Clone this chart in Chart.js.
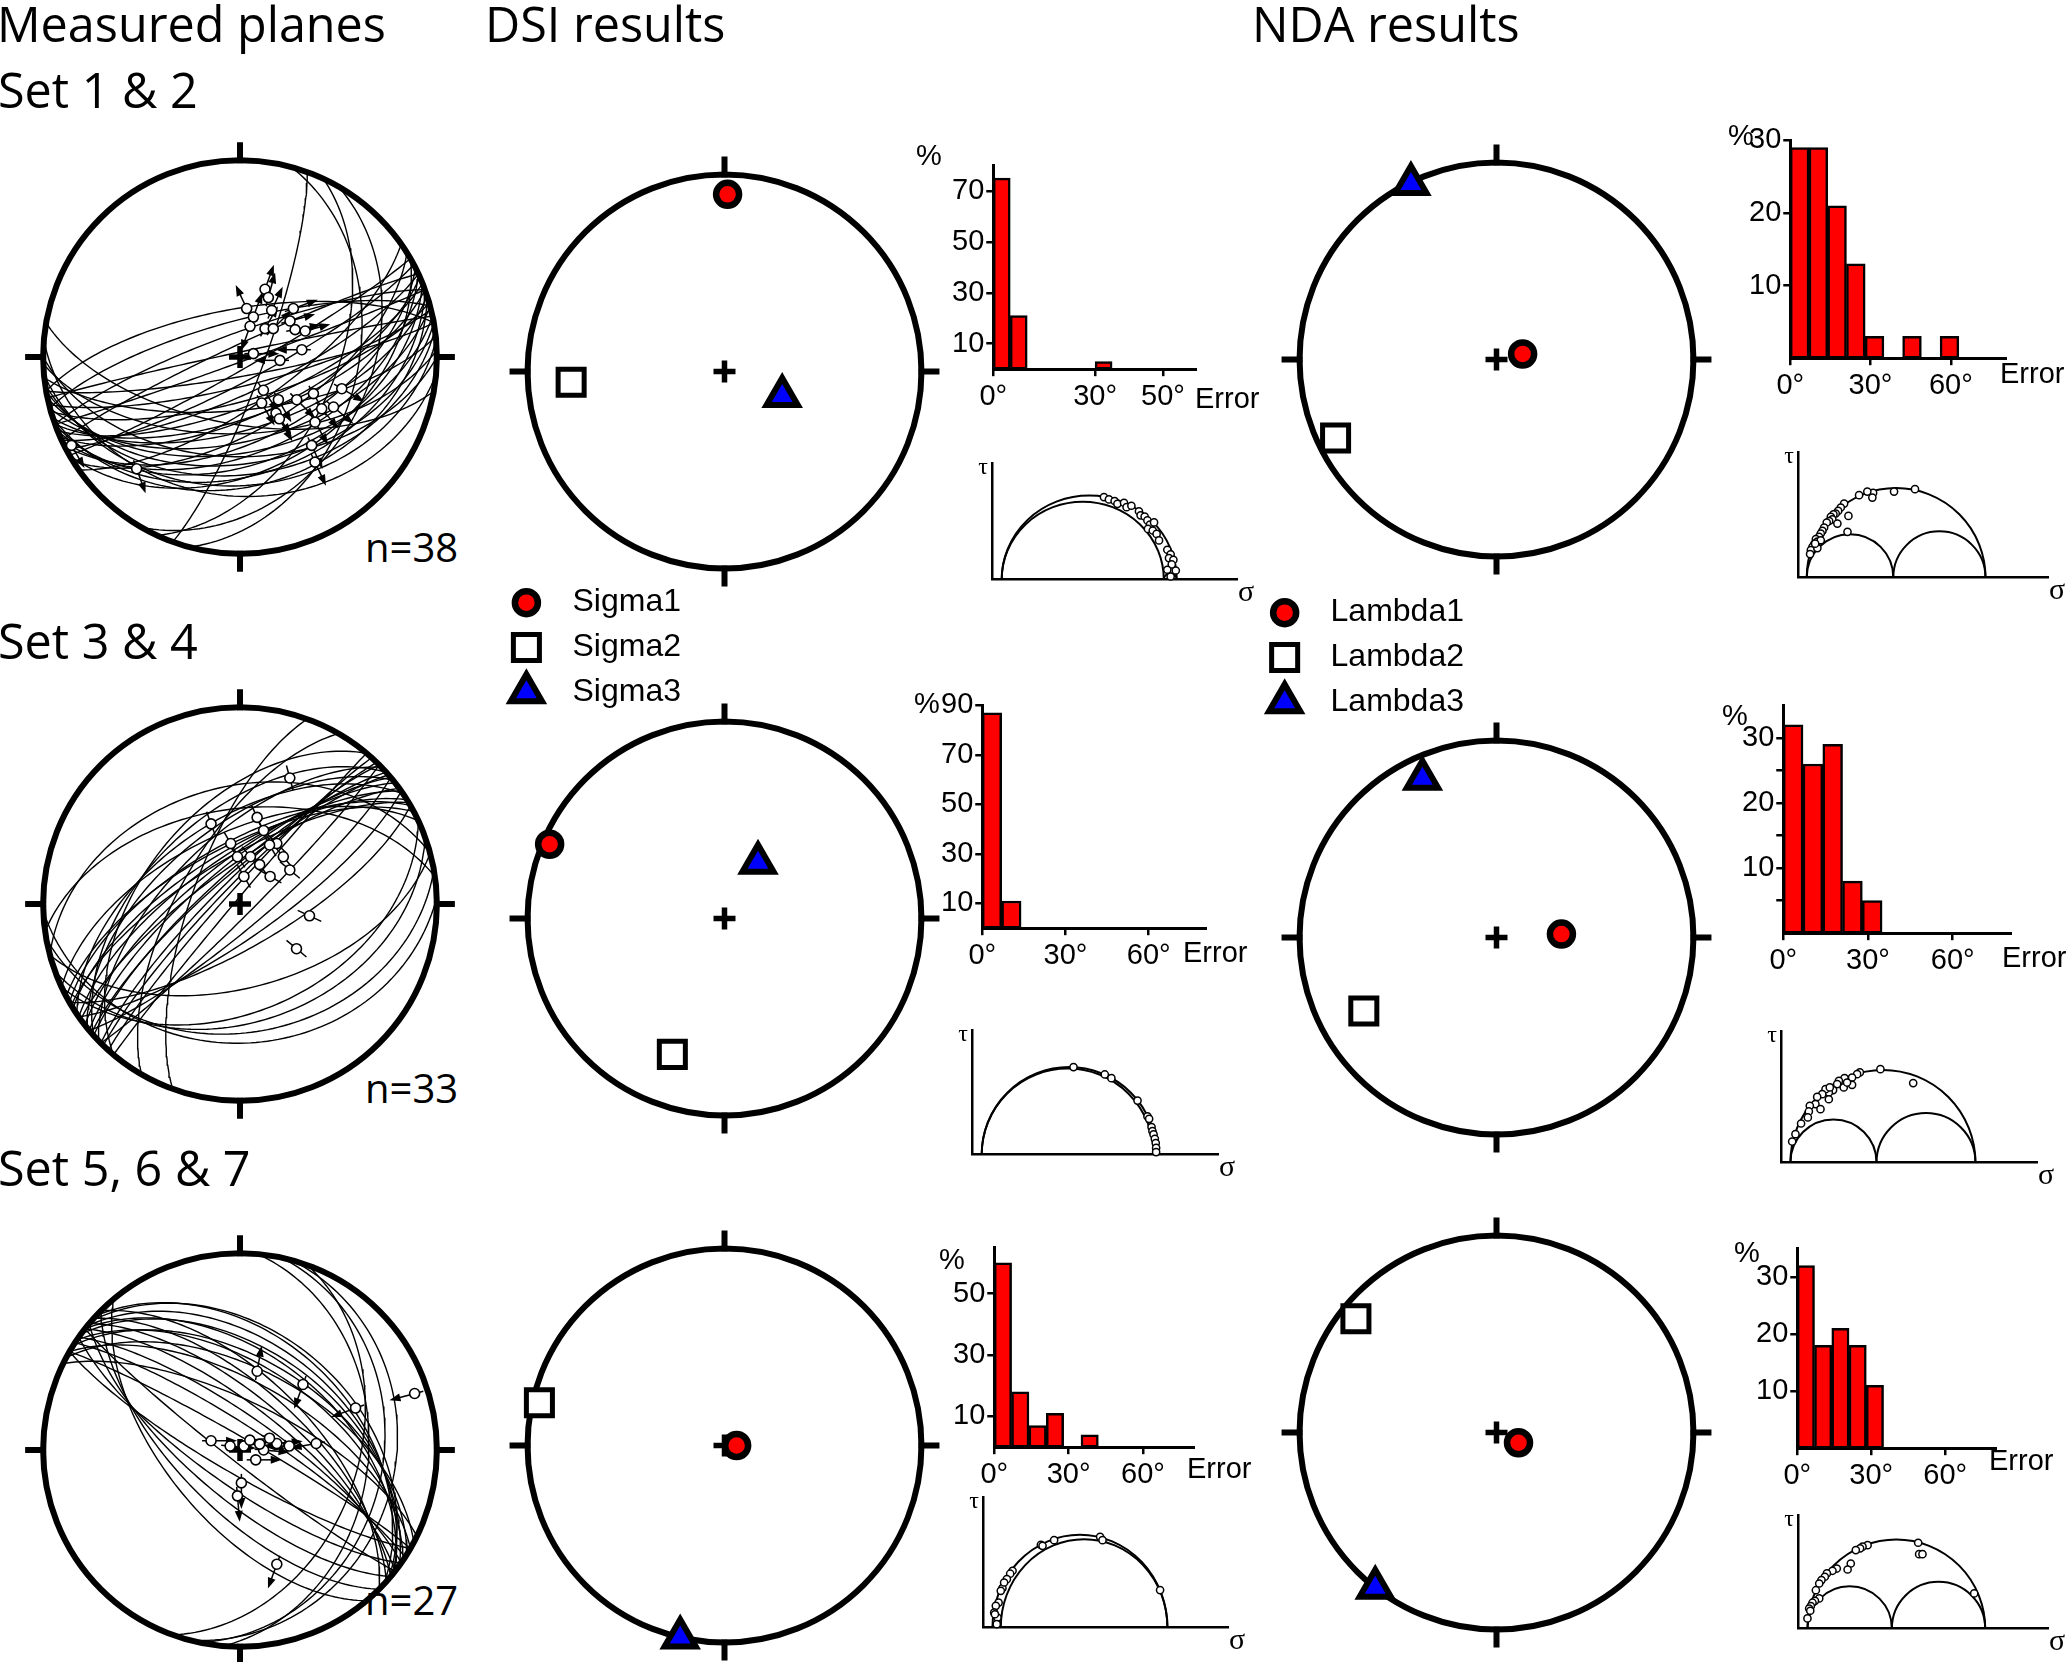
<!DOCTYPE html>
<html>
<head>
<meta charset="utf-8">
<script src="https://cdn.jsdelivr.net/npm/chart.js@4.4.1/dist/chart.umd.min.js"></script>
<style>
  html, body { margin: 0; padding: 0; background: #fff; }
  body { position: relative; width: 2067px; height: 1662px; overflow: hidden; }
  canvas { position: absolute; }
  .t { position: absolute; white-space: nowrap; color: #000; line-height: 1; }
</style>
</head>
<body>
<script>
// ---------------- data ----------------
// measured fault planes (strike, right-hand rule / dip)
const set1Strike = [60, 62, 65, 68, 70, 72, 75, 78, 80, 82, 85, 65, 68, 70, 72, 58, 63, 66, 74, 76, 80, 84, 88, 90, 60, 55, 250, 255, 245, 260, 258, 20, 15, 25, 30, 95, 100, 70];
const set1Dip    = [85, 80, 75, 70, 65, 60, 55, 50, 45, 40, 35, 50, 45, 40, 35, 60, 55, 65, 72, 78, 82, 68, 58, 48, 42, 70, 80, 75, 85, 70, 88, 80, 40, 50, 35, 30, 62, 88];
const set2Strike = [220, 222, 225, 228, 230, 232, 235, 238, 240, 226, 231, 236, 224, 229, 234, 239, 242, 245, 220, 228, 45, 50, 55, 60, 65, 70, 80, 88, 75, 255, 262, 200, 210];
const set2Dip    = [88, 84, 80, 77, 74, 72, 70, 68, 65, 62, 58, 55, 82, 78, 75, 71, 66, 60, 50, 52, 85, 80, 76, 72, 45, 40, 35, 30, 55, 40, 50, 70, 65];
const set3Strike = [300, 303, 305, 308, 310, 312, 315, 298, 302, 306, 309, 313, 296, 300, 304, 308, 311, 120, 125, 130, 135, 140, 128, 5, 12, 20, 15];
const set3Dip    = [85, 80, 76, 72, 68, 64, 60, 56, 52, 48, 45, 42, 70, 62, 55, 50, 40, 80, 75, 70, 65, 60, 85, 35, 28, 40, 22];

// striae positions on the net (east, north; primitive = 1) and slip azimuth
const set1LinE = [.127, .144, .161, .034, .068, .051, .127, .169, .271, .254, .280, .331, .314, .203, .068, .119, .110, .195, .183, .200, .288, .373, .415, .381, .475, .517, .364, .381, -.525, -.856];
const set1LinN = [.344, .302, .237, .246, .203, .156, .144, .144, .246, .183, .139, .132, .037, -.017, .017, -.169, -.234, -.217, -.285, -.314, -.217, -.186, -.263, -.331, -.254, -.161, -.449, -.534, -.568, -.449];
const set1Slip = [20, 15, 25, 335, 20, 200, 30, 45, 70, 75, 80, 75, 270, 270, 90, 145, 150, 150, 145, 150, 135, 150, 140, 150, 130, 120, 155, 155, 160, 150];
const set2LinE = [.253, -.147, -.047, .053, .120, .187, .253, .153, .020, .087, .353, .287, -.013, .220, .150, .100];
const set2LinN = [.640, .407, .307, .240, .373, .307, .173, .140, .140, .440, -.060, -.227, .240, .240, .300, .200];
const set2Slip = [165, 160, 150, 140, 150, 135, 130, 120, 150, 155, 115, 130, 145, 140, 150, 145];
const set3LinE = [.087, .320, .587, .887, -.147, .020, .120, .187, .387, .007, -.013, .187, .050, .100, .150, -.050, .080, .250];
const set3LinN = [.400, .333, .213, .287, .047, .020, .000, .033, .033, -.167, -.233, -.580, .050, .030, .060, .020, -.050, .020];
const set3Slip = [10, 200, 250, 255, 90, 80, 95, 85, 260, 180, 175, 200, 85, 100, 110, 95, 90, 270];

// principal axes (trend / plunge): [1, 2, 3]
const dsiNames = ['Sigma1', 'Sigma2', 'Sigma3'];
const ndaNames = ['Lambda1', 'Lambda2', 'Lambda3'];
const dsiTrend1 = [1, 266, 113],   dsiPlunge1 = [11, 23, 64];
const dsiTrend2 = [293, 201, 31],  dsiPlunge2 = [4, 27, 63];
const dsiTrend3 = [90, 283, 193],  dsiPlunge3 = [85, 4, 0];
const ndaTrend1 = [78, 244, 334],  ndaPlunge1 = [79, 10, 1];
const ndaTrend2 = [87, 241, 335],  ndaPlunge2 = [63, 24, 12];
const ndaTrend3 = [115, 309, 218], ndaPlunge3 = [80, 9, 0];

// misfit histograms (% per bin, bins start at 0°)
const dsiBin = [5, 7, 7];
const ndaBin = [7, 7, 7];
const dsiErr1 = [75, 21, 0, 0, 0, 0, 3];
const dsiErr2 = [87, 11];
const dsiErr3 = [60, 18, 7, 11, 0, 4];
const ndaErr1 = [29, 29, 21, 13, 3, 0, 3, 0, 3];
const ndaErr2 = [32, 26, 29, 8, 5];
const ndaErr3 = [32, 18, 21, 18, 11];
const dsiPctTicks1 = [10, 30, 50, 70];
const dsiPctTicks2 = [10, 30, 50, 70, 90];
const dsiPctTicks3 = [10, 30, 50];
const ndaPctTicks1 = [10, 20, 30];
const ndaPctTicks2 = [5, 10, 15, 20, 25, 30];
const ndaPctTicks3 = [10, 20, 30];
const dsiErrTicks1 = [0, 30, 50];
const errTicks = [0, 30, 60];

// Mohr diagrams: normalised principal stresses [s3, s2, s1] and plane points
const dsiStress1 = [0.05, 0.93, 1.0];
const dsiStress2 = [0.05, 0.985, 1.0];
const dsiStress3 = [0.049, 0.094, 1.0];
const ndaStress1 = [0.044, 0.507, 1.0];
const ndaStress2 = [0.046, 0.490, 1.0];
const ndaStress3 = [0.048, 0.500, 1.0];
const dsiSig1 = [0.605, 0.632, 0.663, 0.678, 0.714, 0.728, 0.754, 0.795, 0.804, 0.826, 0.841, 0.855, 0.877, 0.844, 0.870, 0.891, 0.904, 0.949, 0.967, 0.958, 0.982, 0.973, 0.995, 0.949, 0.967];
const dsiTau1 = [0.466, 0.453, 0.444, 0.428, 0.434, 0.409, 0.417, 0.386, 0.363, 0.356, 0.334, 0.311, 0.323, 0.286, 0.277, 0.258, 0.221, 0.168, 0.142, 0.121, 0.111, 0.085, 0.051, 0.055, 0.017];
const dsiSig2 = [0.549, 0.719, 0.755, 0.897, 0.951, 0.960, 0.973, 0.978, 0.984, 0.991, 0.996, 0.998, 0.998];
const dsiTau2 = [0.475, 0.435, 0.415, 0.293, 0.207, 0.194, 0.149, 0.127, 0.109, 0.085, 0.062, 0.036, 0.013];
const dsiSig3 = [0.312, 0.384, 0.634, 0.647, 0.960, 0.158, 0.145, 0.127, 0.103, 0.094, 0.082, 0.067, 0.058, 0.076, 0.072, 0.062, 0.112, 0.321];
const dsiTau3 = [0.424, 0.448, 0.465, 0.448, 0.192, 0.291, 0.276, 0.248, 0.202, 0.188, 0.128, 0.111, 0.077, 0.051, 0.017, 0.068, 0.231, 0.419];
const ndaSig1 = [0.623, 0.511, 0.399, 0.395, 0.368, 0.324, 0.267, 0.262, 0.244, 0.226, 0.212, 0.199, 0.187, 0.173, 0.181, 0.164, 0.208, 0.151, 0.137, 0.128, 0.119, 0.110, 0.093, 0.101, 0.084, 0.075, 0.066, 0.062, 0.119, 0.101, 0.089];
const ndaTau1 = [0.472, 0.459, 0.452, 0.427, 0.459, 0.440, 0.329, 0.244, 0.395, 0.374, 0.356, 0.342, 0.338, 0.324, 0.311, 0.302, 0.288, 0.294, 0.267, 0.249, 0.235, 0.217, 0.205, 0.192, 0.178, 0.164, 0.146, 0.125, 0.199, 0.157, 0.181];
const ndaSig2 = [0.510, 0.679, 0.404, 0.390, 0.364, 0.325, 0.321, 0.296, 0.364, 0.287, 0.266, 0.244, 0.244, 0.227, 0.210, 0.184, 0.175, 0.201, 0.146, 0.141, 0.136, 0.101, 0.072, 0.055, 0.249, 0.338];
const ndaTau2 = [0.481, 0.409, 0.464, 0.455, 0.438, 0.435, 0.387, 0.421, 0.400, 0.404, 0.373, 0.361, 0.326, 0.378, 0.352, 0.338, 0.301, 0.275, 0.292, 0.263, 0.232, 0.201, 0.146, 0.108, 0.387, 0.412];
const ndaSig3 = [0.641, 0.646, 0.664, 0.370, 0.343, 0.330, 0.307, 0.280, 0.263, 0.205, 0.182, 0.152, 0.141, 0.123, 0.111, 0.093, 0.111, 0.088, 0.075, 0.066, 0.057, 0.063, 0.048, 0.941];
const ndaTau3 = [0.459, 0.398, 0.398, 0.446, 0.438, 0.429, 0.420, 0.348, 0.316, 0.321, 0.309, 0.295, 0.277, 0.259, 0.241, 0.205, 0.161, 0.148, 0.138, 0.120, 0.107, 0.095, 0.054, 0.188];

// ---------------- helpers ----------------
Chart.defaults.font.family = "'Liberation Sans', Arial, sans-serif";
Chart.defaults.color = '#000';

const D = Math.PI / 180;
const LIM = 1.15;   // net axis limit, primitive circle at 1
const R = 197;      // primitive radius in px
const TICK_FONT = 29;

// lower-hemisphere equal-area projection
function project(trend, plunge) {
  const r = Math.SQRT2 * Math.sin((90 - plunge) * D / 2);
  return { x: r * Math.sin(trend * D), y: r * Math.cos(trend * D) };
}
function greatCircle(strike, dip) {
  const s = strike * D, dd = (strike + 90) * D, d = dip * D;
  const S = [Math.sin(s), Math.cos(s), 0];
  const V = [Math.cos(d) * Math.sin(dd), Math.cos(d) * Math.cos(dd), Math.sin(d)];
  const pts = [];
  for (let a = 0; a <= 180; a += 2) {
    const c = Math.cos(a * D), sn = Math.sin(a * D);
    const e = c * S[0] + sn * V[0], n = c * S[1] + sn * V[1], z = c * S[2] + sn * V[2];
    pts.push(project(Math.atan2(e, n) / D, Math.asin(Math.min(1, z)) / D));
  }
  return pts;
}

function markerStyle(i) {
  const st = [
    { pointStyle: 'circle', pointRadius: 11.5, pointBorderWidth: 6.5, pointBackgroundColor: '#ff0000' },
    { pointStyle: 'rect', pointRadius: 18.4, pointBorderWidth: 5, pointBackgroundColor: '#ffffff' },
    { pointStyle: 'triangle', pointRadius: 18, pointBorderWidth: 6, pointBackgroundColor: '#0000ff' }
  ][i];
  return Object.assign({ pointBorderColor: '#000', showLine: false, clip: false }, st);
}

const baseOptions = () => ({
  responsive: false, animation: false, events: [],
  layout: { padding: 0 },
  plugins: { legend: { display: false }, tooltip: { enabled: false } }
});

// build twice so the plot area lands exactly on box (page px)
function mount(makeCfg, box) {
  const cv = document.createElement('canvas');
  document.body.appendChild(cv);
  let w = Math.round(box.w + 300), h = Math.round(box.h + 300);
  const build = () => {
    cv.width = w; cv.height = h;
    cv.style.width = w + 'px'; cv.style.height = h + 'px';
    return new Chart(cv, makeCfg());
  };
  let ch = build(), a = ch.chartArea;
  w = Math.round(w + box.w - (a.right - a.left));
  h = Math.round(h + box.h - (a.bottom - a.top));
  ch.destroy();
  ch = build(); a = ch.chartArea;
  cv.style.position = 'absolute';
  cv.style.left = (box.x - a.left) + 'px';
  cv.style.top = (box.y - a.top) + 'px';
  return ch;
}

function netPlugin(lin) {
  return {
    id: 'net',
    beforeDatasetsDraw(chart) {
      const { ctx, scales: { x, y } } = chart;
      const cx = x.getPixelForValue(0), cy = y.getPixelForValue(0);
      const r = x.getPixelForValue(1) - cx;
      ctx.save();
      ctx.strokeStyle = '#000';
      ctx.fillStyle = '#000';
      ctx.lineWidth = 6;
      ctx.beginPath(); ctx.arc(cx, cy, r, 0, 2 * Math.PI); ctx.stroke();
      ctx.beginPath();
      [[0, -1], [1, 0], [0, 1], [-1, 0]].forEach(([dx, dy]) => {
        ctx.moveTo(cx + dx * (r - 3), cy + dy * (r - 3));
        ctx.lineTo(cx + dx * (r + 18), cy + dy * (r + 18));
      });
      ctx.stroke();
      ctx.lineWidth = 5.5;
      ctx.beginPath();
      ctx.moveTo(cx - 11, cy); ctx.lineTo(cx + 11, cy);
      ctx.moveTo(cx, cy - 11); ctx.lineTo(cx, cy + 11);
      ctx.stroke();
      if (lin) {
        ctx.lineWidth = 1.5;
        lin.e.forEach((e, i) => {
          const px = x.getPixelForValue(e), py = y.getPixelForValue(lin.n[i]);
          const ux = Math.sin(lin.slip[i] * D), uy = -Math.cos(lin.slip[i] * D);
          const back = lin.heads ? 9 : 13, fwd = lin.heads ? 22 : 13;
          ctx.beginPath();
          ctx.moveTo(px - ux * back, py - uy * back);
          ctx.lineTo(px + ux * fwd, py + uy * fwd);
          ctx.stroke();
          if (lin.heads) {
            const tx = px + ux * (fwd + 4), ty = py + uy * (fwd + 4);
            ctx.beginPath();
            ctx.moveTo(tx, ty);
            ctx.lineTo(tx - ux * 11 - uy * 4, ty - uy * 11 + ux * 4);
            ctx.lineTo(tx - ux * 11 + uy * 4, ty - uy * 11 - ux * 4);
            ctx.closePath(); ctx.fill();
          }
        });
      }
      ctx.restore();
    }
  };
}

function stereonet(cx, cy, makeSets, lin) {
  const cfg = () => ({
    type: 'scatter',
    data: { datasets: makeSets() },
    options: Object.assign(baseOptions(), {
      scales: {
        x: { type: 'linear', min: -LIM, max: LIM, display: false },
        y: { type: 'linear', min: -LIM, max: LIM, display: false }
      }
    }),
    plugins: [netPlugin(lin)]
  });
  mount(cfg, { x: cx - LIM * R, y: cy - LIM * R, w: 2 * LIM * R, h: 2 * LIM * R });
}

function planeSets(strikes, dips) {
  return strikes.map((s, i) => ({
    data: greatCircle(s, dips[i]), showLine: true, borderColor: '#000',
    borderWidth: 1.4, pointRadius: 0, tension: 0, clip: false
  }));
}
function striaeSet(e, n) {
  return {
    data: e.map((v, i) => ({ x: v, y: n[i] })), showLine: false,
    pointRadius: 5, pointBorderWidth: 1.6, pointBackgroundColor: '#fff', pointBorderColor: '#000'
  };
}
function axisSets(trends, plunges, names) {
  return trends.map((t, i) => Object.assign({ label: names[i], data: [project(t, plunges[i])] }, markerStyle(i)));
}

function histogram(box, counts, bin, xMax, xTicks, yMax, yTicks, yShown) {
  const grid = { display: true, offset: false, drawOnChartArea: false, drawTicks: true, tickLength: 7, lineWidth: 2.5, color: '#000' };
  const border = { display: true, width: 3, color: '#000' };
  const cfg = () => ({
    type: 'bar',
    data: {
      datasets: [{
        data: counts.map((v, i) => ({ x: (i + 0.5) * bin, y: v })),
        backgroundColor: '#ff0000', borderColor: '#000', borderWidth: 2.5,
        borderSkipped: false, barPercentage: 1, categoryPercentage: 1
      }]
    },
    options: Object.assign(baseOptions(), {
      scales: {
        x: {
          type: 'linear', min: 0, max: xMax, offset: false, grid, border,
          ticks: { color: '#000', font: { size: TICK_FONT }, padding: 3, maxRotation: 0, autoSkip: false, callback: v => v + '°' },
          afterBuildTicks: s => { s.ticks = xTicks.map(v => ({ value: v })); }
        },
        y: {
          type: 'linear', min: 0, max: yMax, grid, border,
          ticks: { color: '#000', font: { size: TICK_FONT }, padding: 2, autoSkip: false, callback: v => yShown.includes(v) ? String(v) : '' },
          afterBuildTicks: s => { s.ticks = yTicks.map(v => ({ value: v })); }
        }
      }
    })
  });
  mount(cfg, box);
}

function mohrPlugin(stress) {
  return {
    id: 'mohr',
    beforeDatasetsDraw(chart) {
      const { ctx, scales: { x, y } } = chart;
      const [s3, s2, s1] = stress;
      ctx.save();
      ctx.strokeStyle = '#000';
      ctx.lineWidth = 2;
      [[s3, s1], [s3, s2], [s2, s1]].forEach(([a, b]) => {
        const c = (a + b) / 2, r = (b - a) / 2;
        const px = x.getPixelForValue(c), py = y.getPixelForValue(0);
        const rx = x.getPixelForValue(c + r) - px, ry = py - y.getPixelForValue(r);
        if (rx < 0.5) return;
        ctx.beginPath(); ctx.ellipse(px, py, rx, ry, 0, Math.PI, 2 * Math.PI); ctx.stroke();
      });
      ctx.restore();
    }
  };
}

function mohr(box, stress, sig, tau, xMax, yMax) {
  const axis = max => ({
    type: 'linear', min: 0, max,
    grid: { display: false, drawTicks: false }, ticks: { display: false },
    border: { display: true, width: 2.5, color: '#000' }
  });
  const cfg = () => ({
    type: 'scatter',
    data: {
      datasets: [{
        data: sig.map((v, i) => ({ x: v, y: tau[i] })), pointRadius: 3.6, pointBorderWidth: 1.5,
        pointBackgroundColor: '#fff', pointBorderColor: '#000', clip: false
      }]
    },
    options: Object.assign(baseOptions(), { scales: { x: axis(xMax), y: axis(yMax) } }),
    plugins: [mohrPlugin(stress)]
  });
  mount(cfg, box);
  textMid('τ', box.x - 9, box.y + 3, 24, "'Liberation Serif', serif", 'center');
  textMid('σ', box.x + box.w + 9, box.y + box.h + 12, 30, "'Liberation Serif', serif", 'center');
}

// legend: markers at x = 0, names as right-hand axis labels
function legendBox(markerX, firstY, names) {
  const cfg = () => ({
    type: 'scatter',
    data: { datasets: names.map((nm, i) => Object.assign({ label: nm, data: [{ x: 0, y: i }] }, markerStyle(i))) },
    options: Object.assign(baseOptions(), {
      scales: {
        x: { type: 'linear', min: -4, max: 1, display: false },
        y: {
          type: 'linear', position: 'right', min: -0.5, max: 2.5, reverse: true,
          grid: { display: false, drawTicks: false }, border: { display: false },
          ticks: { color: '#000', font: { size: 32 }, padding: 16, callback: v => names[v] ?? '' },
          afterBuildTicks: s => { s.ticks = names.map((_, i) => ({ value: i })); }
        }
      }
    })
  });
  mount(cfg, { x: markerX - 120, y: firstY - 22.5, w: 150, h: 135 });
}

function textBase(str, left, baseline, size, family, k) {
  const el = document.createElement('div');
  el.className = 't';
  el.textContent = str;
  el.style.fontFamily = family;
  el.style.fontSize = size + 'px';
  el.style.left = left + 'px';
  el.style.top = (baseline - k * size) + 'px';
  document.body.appendChild(el);
}
function textMid(str, x, cy, size, family, align) {
  const el = document.createElement('div');
  el.className = 't';
  el.textContent = str;
  el.style.fontFamily = family;
  el.style.fontSize = size + 'px';
  el.style.left = x + 'px';
  el.style.top = cy + 'px';
  el.style.transform = align === 'center' ? 'translate(-50%, -50%)' : 'translate(0, -50%)';
  document.body.appendChild(el);
}

// ---------------- layout ----------------
const TITLE = "'Open Sans', sans-serif";
const SANS = "'Liberation Sans', Arial, sans-serif";
textBase('Measured planes', -3, 42, 48.5, TITLE, 0.888);
textBase('DSI results', 485, 42, 48.5, TITLE, 0.888);
textBase('NDA results', 1252, 42, 48.5, TITLE, 0.888);
textBase('Set 1 & 2', -2, 108, 48.5, TITLE, 0.888);
textBase('Set 3 & 4', -2, 659, 48.5, TITLE, 0.888);
textBase('Set 5, 6 & 7', -2, 1186, 48.5, TITLE, 0.888);
textBase('n=38', 365, 563, 40, TITLE, 0.888);
textBase('n=33', 365, 1104, 40, TITLE, 0.888);
textBase('n=27', 365, 1616, 40, TITLE, 0.888);

// measured planes
stereonet(240, 357, () => [striaeSet(set1LinE, set1LinN)].concat(planeSets(set1Strike, set1Dip)),
  { e: set1LinE, n: set1LinN, slip: set1Slip, heads: true });
stereonet(240, 904, () => [striaeSet(set2LinE, set2LinN)].concat(planeSets(set2Strike, set2Dip)),
  { e: set2LinE, n: set2LinN, slip: set2Slip, heads: false });
stereonet(240, 1450, () => [striaeSet(set3LinE, set3LinN)].concat(planeSets(set3Strike, set3Dip)),
  { e: set3LinE, n: set3LinN, slip: set3Slip, heads: true });

// DSI and NDA principal axes
stereonet(725, 372, () => axisSets(dsiTrend1, dsiPlunge1, dsiNames), null);
stereonet(725, 919, () => axisSets(dsiTrend2, dsiPlunge2, dsiNames), null);
stereonet(725, 1446, () => axisSets(dsiTrend3, dsiPlunge3, dsiNames), null);
stereonet(1497, 360, () => axisSets(ndaTrend1, ndaPlunge1, ndaNames), null);
stereonet(1497, 938, () => axisSets(ndaTrend2, ndaPlunge2, ndaNames), null);
stereonet(1497, 1433, () => axisSets(ndaTrend3, ndaPlunge3, ndaNames), null);

legendBox(526, 603, dsiNames);
legendBox(1285, 613, ndaNames);

// histograms
histogram({ x: 993, y: 165, w: 204, h: 204 }, dsiErr1, dsiBin[0], 60, dsiErrTicks1, 80, dsiPctTicks1, dsiPctTicks1);
histogram({ x: 982, y: 705, w: 225, h: 223 }, dsiErr2, dsiBin[1], 81, errTicks, 90, dsiPctTicks2, dsiPctTicks2);
histogram({ x: 994, y: 1247, w: 201, h: 200 }, dsiErr3, dsiBin[2], 81, errTicks, 65, dsiPctTicks3, dsiPctTicks3);
histogram({ x: 1790, y: 140, w: 217, h: 218 }, ndaErr1, ndaBin[0], 81, errTicks, 30, ndaPctTicks1, ndaPctTicks1);
histogram({ x: 1783, y: 705, w: 229, h: 228 }, ndaErr2, ndaBin[1], 81, errTicks, 35, ndaPctTicks2, [10, 20, 30]);
histogram({ x: 1797, y: 1248, w: 200, h: 200 }, ndaErr3, ndaBin[2], 81, errTicks, 35, ndaPctTicks3, ndaPctTicks3);

[[929, 155], [927, 703], [952, 1259], [1741, 135], [1735, 715], [1747, 1252]].forEach(([x, y]) =>
  textMid('%', x, y, TICK_FONT, SANS, 'center'));
[[1195, 398], [1183, 952], [1187, 1468], [2000, 373], [2002, 957], [1989, 1460]].forEach(([x, y]) =>
  textMid('Error', x, y, TICK_FONT, SANS, 'left'));

// Mohr diagrams
mohr({ x: 992, y: 463, w: 245, h: 116 }, dsiStress1, dsiSig1, dsiTau1, 1.33, 0.656);
mohr({ x: 972, y: 1030, w: 246, h: 124 }, dsiStress2, dsiSig2, dsiTau2, 1.337, 0.674);
mohr({ x: 983, y: 1497, w: 245, h: 130 }, dsiStress3, dsiSig3, dsiTau3, 1.332, 0.667);
mohr({ x: 1798, y: 452, w: 250, h: 125 }, ndaStress1, ndaSig1, ndaTau1, 1.337, 0.668);
mohr({ x: 1781, y: 1031, w: 256, h: 131 }, ndaStress2, ndaSig2, ndaTau2, 1.32, 0.675);
mohr({ x: 1798, y: 1515, w: 250, h: 113 }, ndaStress3, ndaSig3, ndaTau3, 1.339, 0.605);
</script>
</body>
</html>
